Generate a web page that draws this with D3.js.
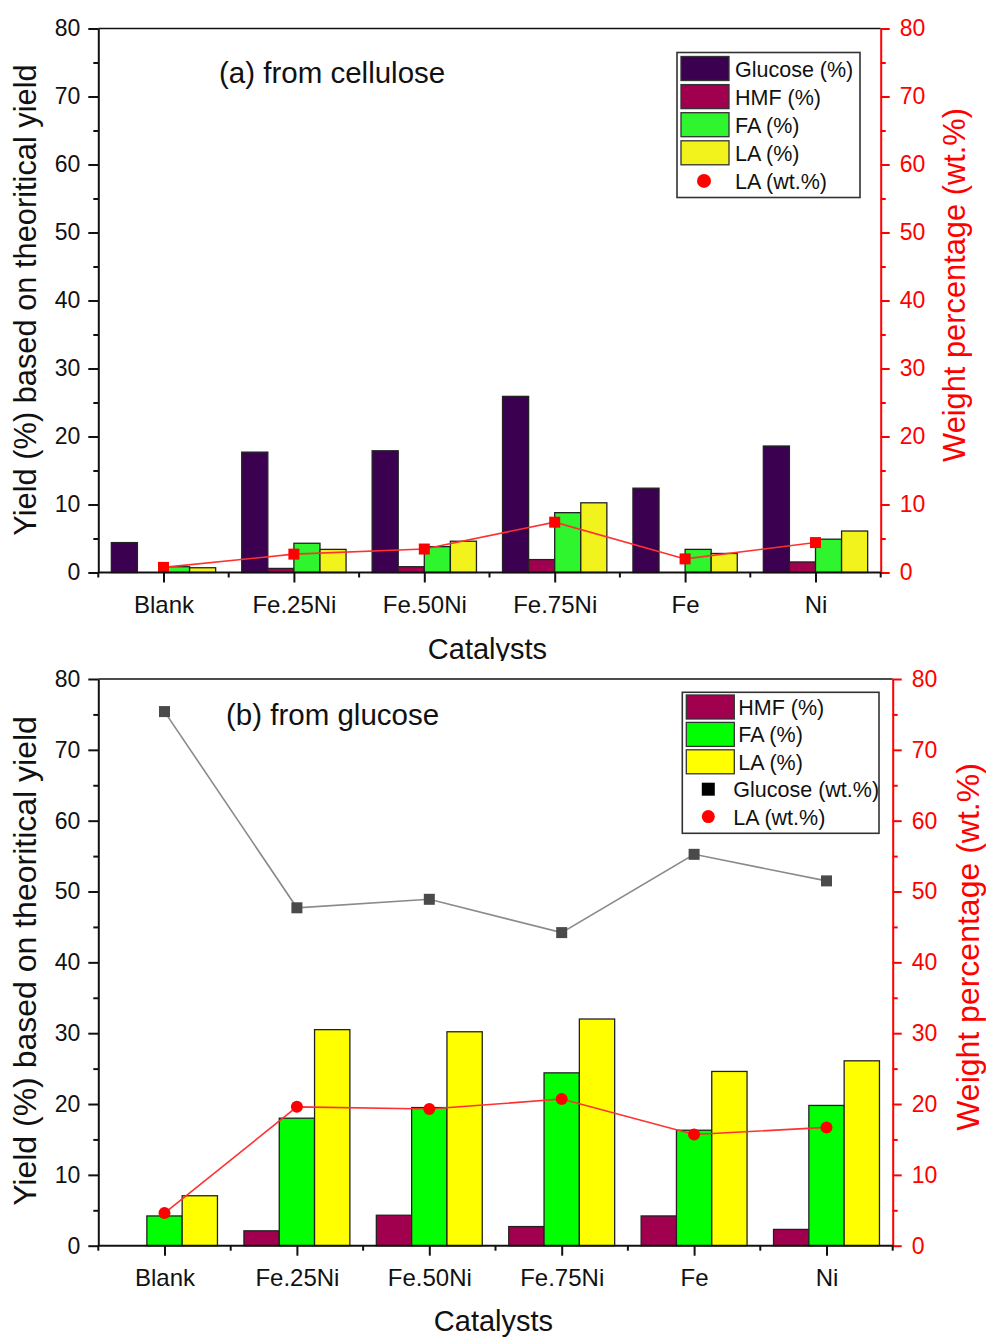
<!DOCTYPE html>
<html>
<head>
<meta charset="utf-8">
<script src="https://cdn.jsdelivr.net/npm/d3@7"></script>
<style>
  html, body { margin: 0; padding: 0; background: #fff; }
  svg { display: block; }
  text { font-family: "Liberation Sans", Arial, sans-serif; }
</style>
</head>
<body>
<svg id="chart" width="986" height="1339"></svg>
<script>
// ---------- DATA ----------
const categories = ["Blank", "Fe.25Ni", "Fe.50Ni", "Fe.75Ni", "Fe", "Ni"];
const yTickValues = [0, 10, 20, 30, 40, 50, 60, 70, 80];
const yMinorTickValues = [5, 15, 25, 35, 45, 55, 65, 75];

// (a) from cellulose
const celluloseGlucose = [4.4, 17.7, 17.9, 25.9, 12.4, 18.6];
const celluloseHMF     = [0.0, 0.6, 0.85, 1.9, 0.0, 1.55];
const celluloseFA      = [0.85, 4.3, 3.8, 8.8, 3.4, 4.9];
const celluloseLA      = [0.7, 3.4, 4.6, 10.25, 2.8, 6.1];
const celluloseLAwt    = [0.75, 2.7, 3.45, 7.4, 2.0, 4.4];

// (b) from glucose
const glucoseHMF       = [0.0, 2.1, 4.3, 2.7, 4.2, 2.3];
const glucoseFA        = [4.2, 18.0, 19.5, 24.4, 16.3, 19.8];
const glucoseLA        = [7.05, 30.5, 30.2, 32.0, 24.6, 26.1];
const glucoseGlucoseWt = [75.4, 47.7, 48.9, 44.2, 55.25, 51.5];
const glucoseLAwt      = [4.6, 19.6, 19.3, 20.7, 15.7, 16.7];

// ---------- STYLE ----------
const C = {
  glucose: "#3c0050",
  hmf: "#a0004e",
  faA: "#2ef52e",
  laA: "#f2f21c",
  faB: "#00ff00",
  laB: "#ffff00",
  red: "#ff0000",
  grey: "#4a4a4a",
  greyLine: "#8a8a8a",
  text: "#111"
};

const svg = d3.select("#chart");
svg.append("rect").attr("width", 986).attr("height", 1339).attr("fill", "#fff");

function drawPanel(opt) {
  const g = svg.append("g");
  const x = d3.scaleBand().domain(categories)
    .range([opt.x0, opt.x1]).paddingInner(0.2).paddingOuter(0.1);
  const y = d3.scaleLinear().domain([0, 80]).range([opt.yb, opt.yt]);
  const yR = d3.scaleLinear().domain([0, 80]).range([opt.yb, opt.yt]);
  const sub = d3.scaleBand().domain(opt.series.map(s => s.name)).range([0, x.bandwidth()]);

  // bars
  opt.series.forEach(s => {
    g.append("g").selectAll("rect").data(categories.map((c, i) => ({c, v: s.values[i]})))
      .join("rect")
      .attr("x", d => x(d.c) + sub(s.name))
      .attr("y", d => y(d.v))
      .attr("width", sub.bandwidth())
      .attr("height", d => opt.yb - y(d.v))
      .attr("fill", s.color)
      .attr("stroke", "#222")
      .attr("stroke-width", d => d.v > 0 ? 1.3 : 0);
  });

  // lines
  const cx = c => x(c) + x.bandwidth() / 2;
  opt.lines.forEach(l => {
    const pts = categories.map((c, i) => ({c, v: l.values[i]}));
    g.append("path").datum(pts)
      .attr("fill", "none")
      .attr("stroke", l.lineColor)
      .attr("stroke-width", 1.6)
      .attr("d", d3.line().x(d => cx(d.c)).y(d => yR(d.v)));
    if (l.marker === "circle") {
      g.append("g").selectAll("circle").data(pts).join("circle")
        .attr("cx", d => cx(d.c)).attr("cy", d => yR(d.v)).attr("r", 6)
        .attr("fill", l.color);
    } else {
      g.append("g").selectAll("rect").data(pts).join("rect")
        .attr("x", d => cx(d.c) - 5.5).attr("y", d => yR(d.v) - 5.5)
        .attr("width", 11).attr("height", 11)
        .attr("fill", l.color);
    }
  });

  // top frame
  g.append("line").attr("x1", opt.x0).attr("x2", opt.x1)
    .attr("y1", opt.yt).attr("y2", opt.yt)
    .attr("stroke", "#111").attr("stroke-width", 1.6);

  // left axis
  const la = g.append("g").attr("transform", `translate(${opt.x0},0)`);
  la.call(d3.axisLeft(y).tickValues(yTickValues).tickSize(10).tickSizeOuter(0).tickPadding(8));
  la.append("g").call(d3.axisLeft(y).tickValues(yMinorTickValues).tickSize(5).tickFormat(""))
    .select(".domain").remove();
  la.selectAll("path, line").attr("stroke", "#111").attr("stroke-width", 2);
  la.selectAll("text").attr("font-size", 23).attr("fill", C.text)
    .attr("font-family", "Liberation Sans, Arial, sans-serif");

  // right axis
  const ra = g.append("g").attr("transform", `translate(${opt.x1},0)`);
  ra.call(d3.axisRight(yR).tickValues(yTickValues).tickSize(9).tickSizeOuter(0).tickPadding(10));
  ra.append("g").call(d3.axisRight(yR).tickValues(yMinorTickValues).tickSize(5).tickFormat(""))
    .select(".domain").remove();
  ra.selectAll("path, line").attr("stroke", C.red).attr("stroke-width", 2);
  ra.selectAll("text").attr("font-size", 23).attr("fill", C.red)
    .attr("font-family", "Liberation Sans, Arial, sans-serif");

  // bottom axis
  const ba = g.append("g").attr("transform", `translate(0,${opt.yb})`);
  const centers = d3.scalePoint().domain(categories)
    .range([x(categories[0]) + x.bandwidth() / 2, x(categories[categories.length - 1]) + x.bandwidth() / 2]);
  ba.call(d3.axisBottom(centers).tickSize(10).tickSizeOuter(0).tickPadding(13));
  ba.select(".domain").attr("d", `M${opt.x0},0H${opt.x1}`);
  const bounds = d3.range(categories.length + 1).map(i => opt.x0 + i * x.step());
  ba.append("g").selectAll("line").data(bounds).join("line")
    .attr("x1", d => d).attr("x2", d => d).attr("y1", 0).attr("y2", 5);
  ba.selectAll("path, line").attr("stroke", "#111").attr("stroke-width", 2);
  ba.selectAll("text").attr("font-size", 24).attr("fill", C.text)
    .attr("font-family", "Liberation Sans, Arial, sans-serif");

  // titles
  g.append("text").attr("x", opt.titleX).attr("y", opt.titleY)
    .attr("font-size", 29.5).attr("fill", C.text).text(opt.title);
  g.append("text").attr("x", (opt.x0 + opt.x1) / 2 - 2).attr("y", opt.xLabelY)
    .attr("text-anchor", "middle").attr("font-size", 29).attr("fill", C.text).text("Catalysts");
  g.append("text")
    .attr("transform", `translate(${opt.yLabelX},${opt.yLabelCY}) rotate(-90)`)
    .attr("text-anchor", "middle").attr("font-size", opt.yLabelSize).attr("fill", C.text)
    .text("Yield (%) based on theoritical yield");
  g.append("text")
    .attr("transform", `translate(${opt.rLabelX},${opt.rLabelCY}) rotate(-90)`)
    .attr("text-anchor", "middle").attr("font-size", opt.yLabelSize).attr("fill", C.red)
    .text("Weight percentage (wt.%)");

  // legend
  const L = opt.legend;
  const lg = g.append("g");
  lg.append("rect").attr("x", L.x).attr("y", L.y).attr("width", L.w).attr("height", L.h)
    .attr("fill", "#fff").attr("stroke", "#333").attr("stroke-width", 1.6);
  L.items.forEach((it, i) => {
    const cy = L.y + L.first + i * L.step;
    if (it.type === "bar") {
      lg.append("rect").attr("x", L.x + 4).attr("y", cy - 12).attr("width", 48).attr("height", 24)
        .attr("fill", it.color).attr("stroke", "#333").attr("stroke-width", 1.3);
    } else if (it.type === "circle") {
      lg.append("circle").attr("cx", L.markX).attr("cy", cy).attr("r", it.r).attr("fill", it.color);
    } else {
      lg.append("rect").attr("x", L.markX - 6.5).attr("y", cy - 6.5).attr("width", 13).attr("height", 13)
        .attr("fill", it.color);
    }
    lg.append("text").attr("x", it.type === "bar" ? L.x + L.textDx : L.x + L.textDx2)
      .attr("y", cy + 8).attr("font-size", 21.5).attr("fill", C.text).text(it.label);
  });
}

// Panel (a)
drawPanel({
  x0: 98.3, x1: 880.7, yt: 28.5, yb: 572.5,
  series: [
    {name: "Glucose (%)", values: celluloseGlucose, color: C.glucose},
    {name: "HMF (%)", values: celluloseHMF, color: C.hmf},
    {name: "FA (%)", values: celluloseFA, color: C.faA},
    {name: "LA (%)", values: celluloseLA, color: C.laA}
  ],
  lines: [
    {values: celluloseLAwt, color: C.red, lineColor: "#ff3030", marker: "square"}
  ],
  title: "(a) from cellulose", titleX: 219, titleY: 83,
  xLabelY: 659,
  yLabelX: 36, yLabelCY: 300, rLabelX: 965, rLabelCY: 285, yLabelSize: 30.8,
  legend: {
    x: 677, y: 52.5, w: 183, h: 145, first: 16, step: 28.1, markX: 704, textDx: 58, textDx2: 58,
    items: [
      {type: "bar", color: C.glucose, label: "Glucose (%)"},
      {type: "bar", color: C.hmf, label: "HMF (%)"},
      {type: "bar", color: C.faA, label: "FA (%)"},
      {type: "bar", color: C.laA, label: "LA (%)"},
      {type: "circle", color: C.red, r: 7, label: "LA (wt.%)"}
    ]
  }
});

// white sheet for panel (b)
svg.append("rect").attr("x", 0).attr("y", 661).attr("width", 986).attr("height", 678).attr("fill", "#fff");

// Panel (b)
drawPanel({
  x0: 98.3, x1: 892.7, yt: 679, yb: 1245.7,
  series: [
    {name: "HMF (%)", values: glucoseHMF, color: C.hmf},
    {name: "FA (%)", values: glucoseFA, color: C.faB},
    {name: "LA (%)", values: glucoseLA, color: C.laB}
  ],
  lines: [
    {values: glucoseGlucoseWt, color: C.grey, lineColor: C.greyLine, marker: "square"},
    {values: glucoseLAwt, color: C.red, lineColor: "#ff3030", marker: "circle"}
  ],
  title: "(b) from glucose", titleX: 226, titleY: 725,
  xLabelY: 1331,
  yLabelX: 36, yLabelCY: 961, rLabelX: 979, rLabelCY: 947, yLabelSize: 32,
  legend: {
    x: 682.3, y: 692.3, w: 196.7, h: 141, first: 14.7, step: 27.4, markX: 708.3, textDx: 56, textDx2: 51,
    items: [
      {type: "bar", color: C.hmf, label: "HMF (%)"},
      {type: "bar", color: C.faB, label: "FA (%)"},
      {type: "bar", color: C.laB, label: "LA (%)"},
      {type: "square", color: "#000", label: "Glucose (wt.%)"},
      {type: "circle", color: C.red, r: 6.5, label: "LA (wt.%)"}
    ]
  }
});
</script>
</body>
</html>
